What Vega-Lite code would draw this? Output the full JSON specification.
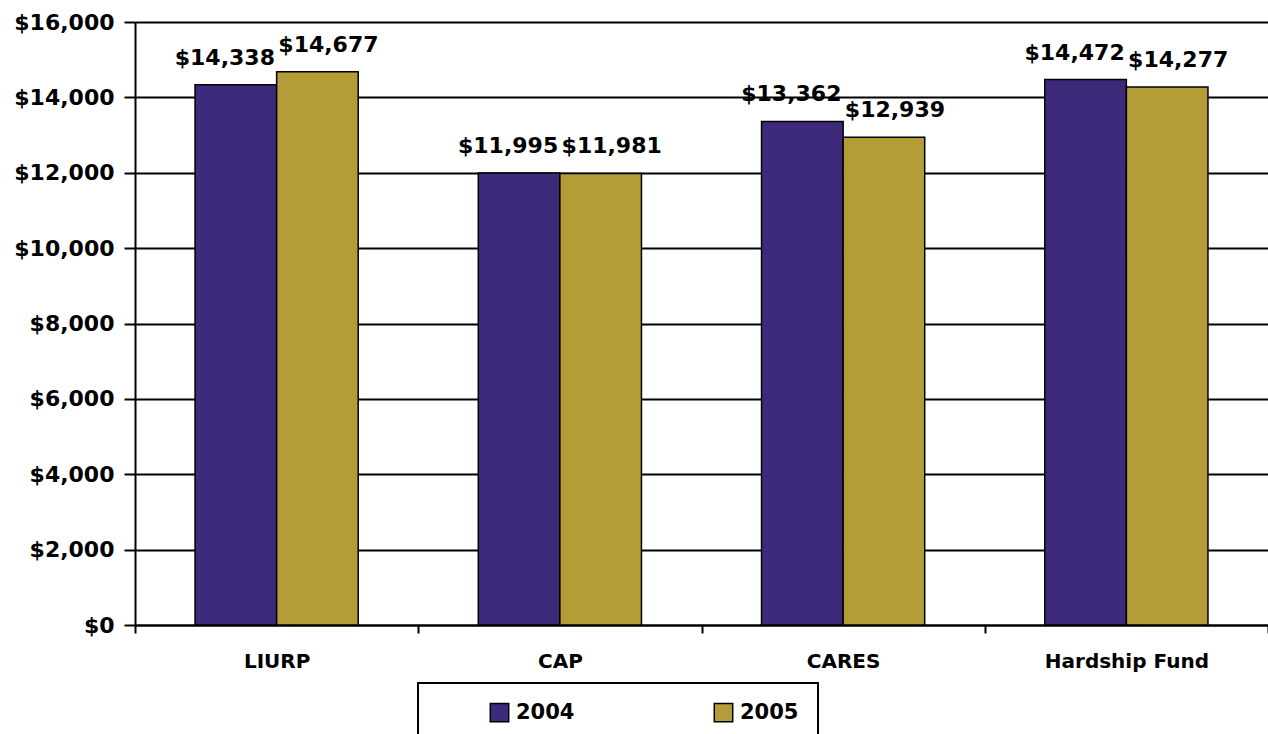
{
  "$schema": "https://vega.github.io/schema/vega-lite/v6.json",
  "width": 1133,
  "height": 603,
  "autosize": {"type": "none"},
  "padding": {"left": 135, "top": 22, "right": 0, "bottom": 109},
  "background": "white",
  "config": {
    "font": "DejaVu Sans",
    "view": {"stroke": null},
    "legend": {"strokeWidth": 2}
  },
  "data": {
    "values": [
      {"program": "LIURP", "year": "2004", "cost": 14338},
      {"program": "LIURP", "year": "2005", "cost": 14677},
      {"program": "CAP", "year": "2004", "cost": 11995},
      {"program": "CAP", "year": "2005", "cost": 11981},
      {"program": "CARES", "year": "2004", "cost": 13362},
      {"program": "CARES", "year": "2005", "cost": 12939},
      {"program": "Hardship Fund", "year": "2004", "cost": 14472},
      {"program": "Hardship Fund", "year": "2005", "cost": 14277}
    ]
  },
  "encoding": {
    "x": {
      "field": "program",
      "type": "nominal",
      "sort": ["LIURP", "CAP", "CARES", "Hardship Fund"],
      "scale": {"paddingInner": 0, "paddingOuter": 0},
      "axis": {
        "title": null,
        "labelAngle": 0,
        "labelFontSize": 20,
        "labelFontWeight": "bold",
        "labelColor": "black",
        "labelPadding": 18,
        "tickBand": "extent",
        "tickSize": 8,
        "tickColor": "black",
        "tickWidth": 2,
        "domainColor": "black",
        "domainWidth": 2
      }
    },
    "xOffset": {
      "field": "year",
      "type": "nominal",
      "scale": {"paddingInner": 0, "paddingOuter": 0.736}
    },
    "y": {
      "field": "cost",
      "type": "quantitative",
      "scale": {"domain": [0, 16000], "nice": false},
      "axis": {
        "title": null,
        "values": [0, 2000, 4000, 6000, 8000, 10000, 12000, 14000, 16000],
        "format": "$,.0f",
        "labelFontSize": 22,
        "labelFontWeight": "bold",
        "labelColor": "black",
        "labelPadding": 10,
        "tickSize": 11,
        "tickColor": "black",
        "tickWidth": 2,
        "grid": true,
        "gridColor": "black",
        "gridWidth": 2,
        "gridOpacity": 1,
        "domainColor": "black",
        "domainWidth": 2
      }
    }
  },
  "layer": [
    {
      "mark": {"type": "bar", "stroke": "black", "strokeWidth": 1.5},
      "encoding": {
        "color": {
          "field": "year",
          "type": "nominal",
          "scale": {"domain": ["2004", "2005"], "range": ["#3e2a7b", "#b49c38"]},
          "legend": {
            "title": null,
            "orient": "none",
            "legendX": 283,
            "legendY": 661,
            "direction": "horizontal",
            "symbolType": "square",
            "symbolSize": 340,
            "symbolStrokeColor": "black",
            "symbolStrokeWidth": 1.5,
            "symbolOpacity": 1,
            "symbolOffset": 52,
            "labelFontSize": 21,
            "labelFontWeight": "bold",
            "labelColor": "black",
            "labelOffset": 6,
            "columnPadding": 86,
            "padding": 19,
            "strokeColor": "black"
          }
        }
      }
    },
    {
      "transform": [{"filter": "datum.year == '2004'"}],
      "mark": {"type": "text", "dy": -27, "dx": -11, "fontSize": 22, "fontWeight": "bold", "color": "black"},
      "encoding": {
        "text": {"field": "cost", "type": "quantitative", "format": "$,.0f"}
      }
    },
    {
      "transform": [{"filter": "datum.year == '2005'"}],
      "mark": {"type": "text", "dy": -27, "dx": 11, "fontSize": 22, "fontWeight": "bold", "color": "black"},
      "encoding": {
        "text": {"field": "cost", "type": "quantitative", "format": "$,.0f"}
      }
    }
  ]
}
